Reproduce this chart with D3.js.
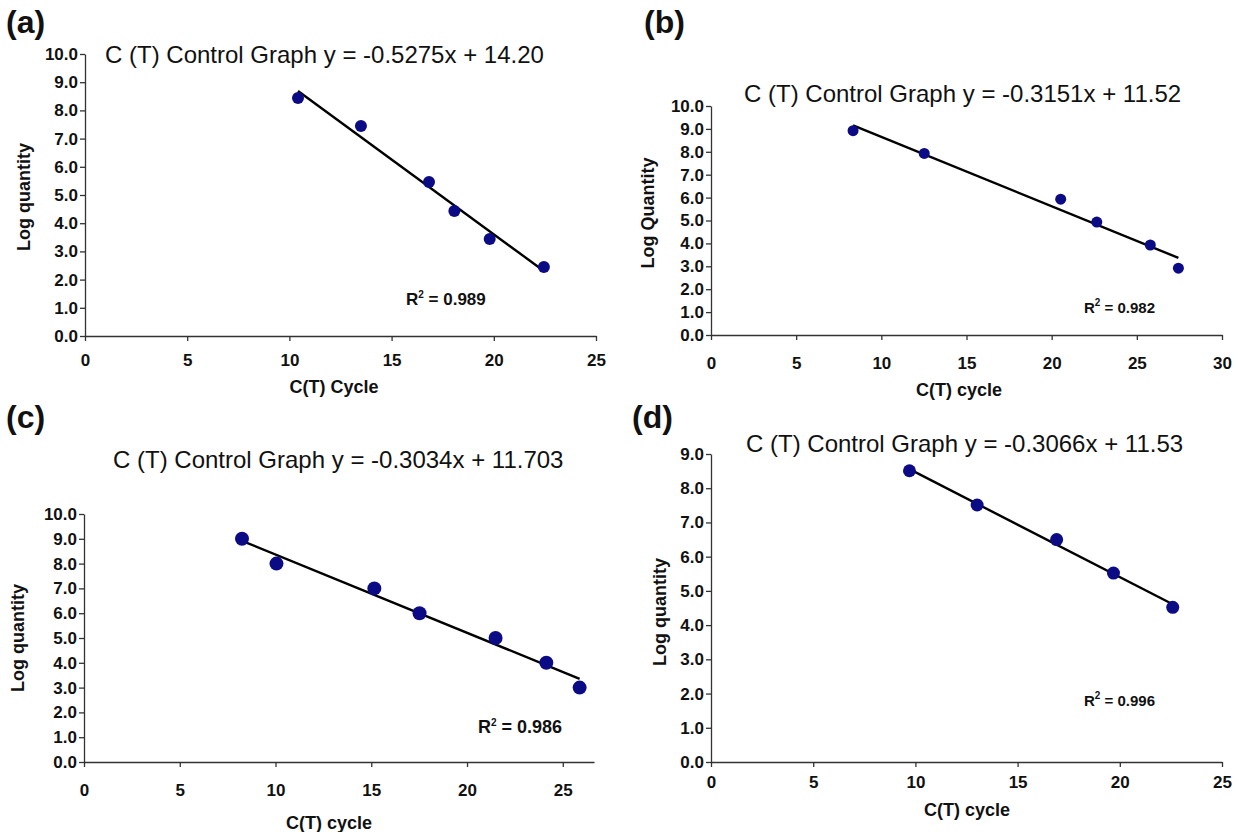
<!DOCTYPE html>
<html>
<head>
<meta charset="utf-8">
<script src="https://cdn.jsdelivr.net/npm/d3@7"></script>
<style>
  body { margin: 0; background: #fff; }
  svg text { font-family: "Liberation Sans", Arial, sans-serif; fill: #111; }
  .axis text { font-weight: bold; font-size: 17px; }
  .axis path, .axis line { stroke: #333; stroke-width: 1.3; }
</style>
</head>
<body>
<svg id="chart" width="1239" height="832"></svg>
<script>
// ---- data ----
var panelLetters = ['(a)', '(b)', '(c)', '(d)']
var panelTitles = [
  'C (T) Control Graph y = -0.5275x + 14.20',
  'C (T) Control Graph y = -0.3151x + 11.52',
  'C (T) Control Graph y = -0.3034x + 11.703',
  'C (T) Control Graph y = -0.3066x + 11.53'
]
var r2Values = ['0.989', '0.982', '0.986', '0.996']
var xTitles = ['C(T) Cycle', 'C(T) cycle', 'C(T) cycle', 'C(T) cycle']
var yTitles = ['Log quantity', 'Log Quantity', 'Log quantity', 'Log quantity']

var aCycle = [10.42, 13.5, 16.83, 18.07, 19.8, 22.45]
var aLogQty = [8.44, 7.45, 5.46, 4.43, 3.44, 2.45]
var bCycle = [8.34, 12.52, 20.53, 22.65, 25.79, 27.44]
var bLogQty = [8.92, 7.93, 5.93, 4.93, 3.93, 2.92]
var cCycle = [8.25, 10.05, 15.16, 17.52, 21.49, 24.14, 25.88]
var cLogQty = [9.0, 8.0, 7.0, 6.0, 5.0, 4.0, 3.0]
var dCycle = [9.71, 13.02, 16.91, 19.69, 22.59]
var dLogQty = [8.51, 7.51, 6.5, 5.52, 4.52]

var xTicksA = [0, 5, 10, 15, 20, 25]
var xTicksB = [0, 5, 10, 15, 20, 25, 30]
var yTicks10 = [0, 1, 2, 3, 4, 5, 6, 7, 8, 9, 10]
var yTicks9 = [0, 1, 2, 3, 4, 5, 6, 7, 8, 9]

// ---- layout (pixels) ----
var panels = [
  {xs: aCycle, ys: aLogQty, xTicks: xTicksA, yTicks: yTicks10, xMax: 25, yMax: 10,
   left: 85, right: 596, top: 54, bottom: 336, pad: 13, r: 6,
   letter: [6, 33], title: [105, 63], rsq: [406, 305, 17],
   xt: [334, 393], yt: [24, 197]},
  {xs: bCycle, ys: bLogQty, xTicks: xTicksB, yTicks: yTicks10, xMax: 30, yMax: 10,
   left: 711, right: 1222, top: 106, bottom: 335, pad: 17, r: 5.5,
   letter: [644, 33], title: [744, 102], rsq: [1084, 313, 15],
   xt: [959, 396], yt: [648, 213]},
  {xs: cCycle, ys: cLogQty, xTicks: xTicksA, yTicks: yTicks10, xMax: 26.63, yMax: 10,
   left: 84, right: 594, top: 514, bottom: 762, pad: 17, r: 7,
   letter: [6, 428], title: [113, 468], rsq: [478, 733, 18],
   xt: [329, 829], yt: [18, 638]},
  {xs: dCycle, ys: dLogQty, xTicks: xTicksA, yTicks: yTicks9, xMax: 25, yMax: 9,
   left: 711, right: 1222, top: 454, bottom: 762, pad: 9, r: 6.5,
   letter: [632, 428], title: [746, 452], rsq: [1084, 706, 15],
   xt: [967, 816], yt: [660, 612]}
]

var svg = d3.select('#chart')

// least squares trendline, like the spreadsheet draws it
function fit(xs, ys) {
  var mx = d3.mean(xs), my = d3.mean(ys)
  var sxy = d3.sum(xs, (x, i) => (x - mx) * (ys[i] - my))
  var sxx = d3.sum(xs, x => (x - mx) * (x - mx))
  var m = sxy / sxx
  return {m: m, b: my - m * mx}
}

panels.forEach(function(p, i) {
  var g = svg.append('g')
  var x = d3.scaleLinear().domain([0, p.xMax]).range([p.left, p.right])
  var y = d3.scaleLinear().domain([0, p.yMax]).range([p.bottom, p.top])

  g.append('g')
    .attr('class', 'axis')
    .attr('transform', 'translate(0,' + p.bottom + ')')
    .call(d3.axisBottom(x).tickValues(p.xTicks).tickFormat(d3.format('d'))
      .tickSize(5).tickSizeOuter(0).tickPadding(p.pad))

  g.append('g')
    .attr('class', 'axis')
    .attr('transform', 'translate(' + p.left + ',0)')
    .call(d3.axisLeft(y).tickValues(p.yTicks).tickFormat(d3.format('.1f'))
      .tickSize(5).tickSizeOuter(0).tickPadding(2))

  // trendline
  var f = fit(p.xs, p.ys)
  var x0 = d3.min(p.xs), x1 = d3.max(p.xs)
  g.append('line')
    .attr('x1', x(x0)).attr('y1', y(f.m * x0 + f.b))
    .attr('x2', x(x1)).attr('y2', y(f.m * x1 + f.b))
    .attr('stroke', '#000').attr('stroke-width', 2.4)

  g.selectAll('circle')
    .data(p.xs.map((v, k) => [v, p.ys[k]]))
    .enter()
    .append('circle')
      .attr('cx', d => x(d[0]))
      .attr('cy', d => y(d[1]))
      .attr('r', p.r)
      .attr('fill', '#0b0b86')

  g.append('text')
    .attr('x', p.letter[0]).attr('y', p.letter[1])
    .style('font-size', '32px').style('font-weight', 'bold')
    .text(panelLetters[i])

  g.append('text')
    .attr('x', p.title[0]).attr('y', p.title[1])
    .style('font-size', '24px')
    .text(panelTitles[i])

  var rt = g.append('text')
    .attr('x', p.rsq[0]).attr('y', p.rsq[1])
    .style('font-size', p.rsq[2] + 'px').style('font-weight', 'bold')
  rt.append('tspan').text('R')
  rt.append('tspan').attr('dy', -7).style('font-size', '10px').text('2')
  rt.append('tspan').attr('dy', 7).text(' = ' + r2Values[i])

  g.append('text')
    .attr('x', p.xt[0]).attr('y', p.xt[1])
    .attr('text-anchor', 'middle')
    .style('font-size', '18px').style('font-weight', 'bold')
    .text(xTitles[i])

  g.append('text')
    .attr('transform', 'translate(' + p.yt[0] + ',' + p.yt[1] + ') rotate(-90)')
    .attr('text-anchor', 'middle')
    .attr('dy', '0.35em')
    .style('font-size', '18px').style('font-weight', 'bold')
    .text(yTitles[i])
})
</script>
</body>
</html>
